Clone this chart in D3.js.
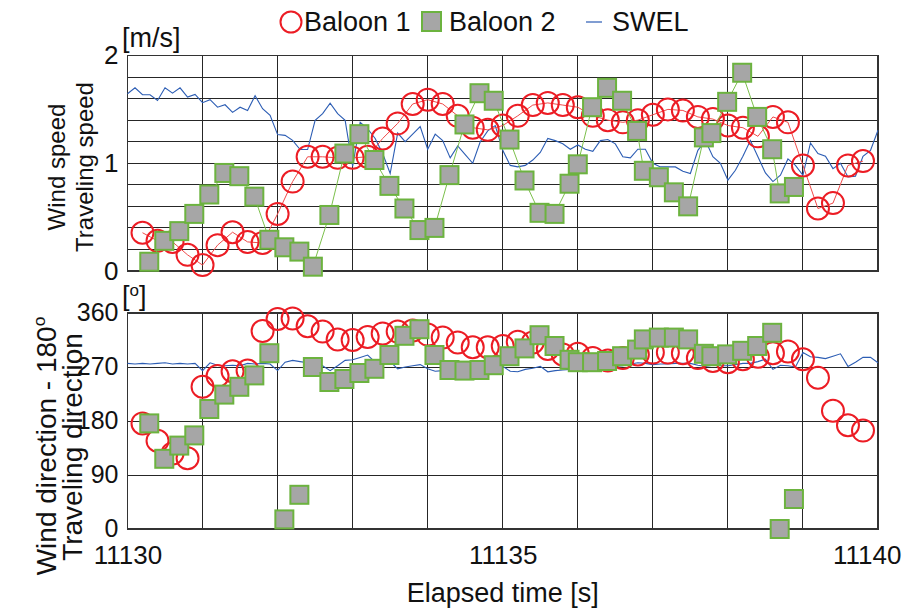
<!DOCTYPE html>
<html>
<head>
<meta charset="utf-8">
<title>Baloon and SWEL wind</title>
<script src="https://d3js.org/d3.v7.min.js"></script>
<style>
  body { margin: 0; background: #fff; }
  svg { display: block; font-family: "Liberation Sans", Arial, sans-serif; }
</style>
</head>
<body>
<div id="chart"></div>
<script>

// ******* Data *******
// Baloon 1 : one sample every 0.2 s starting at 11130.2 s
var b1Start = 11130.2, b1Step = 0.2;
var b1Speed = [0.355, 0.28, 0.27, 0.15, 0.055, 0.24, 0.36, 0.27, 0.26, 0.53,
               0.83, 1.06, 1.06, 1.05, 1.05, 1.06, 1.23, 1.37, 1.55, 1.59,
               1.55, 1.44, 1.33, 1.31, 1.35, 1.44, 1.54, 1.56, 1.54, 1.52,
               1.44, 1.40, 1.38, 1.40, 1.45, 1.50, 1.49, 1.43, 1.41, 1.35,
               1.33, 1.25, 1.43, 1.38, 0.98, 0.58, 0.63, 0.98, 1.02];
var b1Dir = [176, 147, 126, 118, 237, 255, 263, 264, 330, 350,
             351, 338, 329, 316, 315, 320, 326, 329, 331, 324,
             319, 311, 303, 303, 305, 312, 311, 300, 291, 292,
             285, 281, 285, 291, 294, 294, 293, 285, 280, 278,
             283, 287, 293, 296, 283, 252, 197, 173, 164];

// Baloon 2 : irregular sampling
var b2Time = [11130.29, 11130.49, 11130.69, 11130.89, 11131.09, 11131.29, 11131.49, 11131.69,
              11131.89, 11132.09, 11132.29, 11132.47, 11132.69, 11132.89, 11133.09, 11133.29,
              11133.49, 11133.69, 11133.89, 11134.09, 11134.29, 11134.49, 11134.69, 11134.88,
              11135.09, 11135.29, 11135.49, 11135.69, 11135.89, 11136.00, 11136.19, 11136.39,
              11136.59, 11136.79, 11136.88, 11137.08, 11137.28, 11137.47, 11137.68, 11137.78,
              11137.99, 11138.19, 11138.39, 11138.59, 11138.69, 11138.88];
var b2Speed = [0.086, 0.28, 0.37, 0.53, 0.71, 0.91, 0.88, 0.69,
               0.29, 0.22, 0.18, 0.04, 0.52, 1.09, 1.27, 1.03,
               0.79, 0.58, 0.38, 0.40, 0.89, 1.36, 1.65, 1.58,
               1.22, 0.84, 0.54, 0.53, 0.81, 0.99, 1.52, 1.70,
               1.58, 1.30, 0.93, 0.87, 0.73, 0.60, 1.24, 1.28,
               1.57, 1.84, 1.43, 1.13, 0.72, 0.78];
var b2Dir = [176, 117, 139, 156, 200, 224, 237, 256,
             293, 16, 57, 270, 245, 250, 260, 267,
             290, 322, 333, 290, 265, 264, 265, 273,
             288, 301, 323, 305, 282, 278, 278, 280,
             288, 299, 316, 319, 319, 316, 292, 288,
             291, 297, 305, 327, 0, 50];

// SWEL : one sample every 0.1 s starting at 11130 s
var swelStart = 11130, swelStep = 0.1;
var swelSpeed = [1.645, 1.70, 1.636, 1.636, 1.583, 1.70, 1.651, 1.70, 1.614, 1.639,
                 1.562, 1.59, 1.52, 1.543, 1.472, 1.52, 1.49, 1.627, 1.506, 1.444,
                 1.266, 1.259, 1.213, 1.127, 1.127, 1.398, 1.46, 1.558, 1.46, 1.398,
                 0.97, 1.38, 1.32, 1.23, 1.09, 0.905, 1.28, 1.20, 1.27, 1.34,
                 1.13, 1.27, 1.21, 1.05, 1.16, 1.08, 1.00, 1.20, 1.30, 1.35,
                 1.12, 0.98, 0.966, 0.98, 1.03, 1.10, 1.23, 1.21, 1.18, 1.13,
                 1.17, 1.13, 1.11, 1.21, 1.22, 1.18, 1.06, 1.05, 1.13, 1.13,
                 1.00, 0.966, 0.966, 0.966, 0.926, 0.905, 1.12, 1.21, 1.06, 1.00,
                 0.843, 0.935, 1.065, 1.21, 1.06, 0.91, 0.83, 0.889, 1.04, 0.98,
                 0.889, 1.188, 1.09, 1.065, 0.95, 1.0, 0.873, 0.88, 1.065, 1.12, 1.306];
var swelDir = [276, 275, 276, 275, 276, 277, 275, 276, 275, 276,
               264, 277, 273, 272, 273, 272, 276, 275, 276, 275,
               264, 278, 281, 279, 277, 275, 272, 264, 272, 281,
               282, 286, 290, 278, 280, 279, 267, 270, 272, 274,
               267, 263, 264, 265, 266, 264, 268, 270, 268, 270,
               271, 263, 262, 266, 268, 271, 262, 264, 265, 266,
               268, 267, 269, 268, 270, 271, 272, 275, 277, 276,
               274, 275, 275, 276, 276, 276, 273, 271, 273, 272,
               272, 274, 276, 276, 279, 283, 266, 273, 272, 270,
               294, 287, 286, 284, 288, 292, 271, 278, 286, 286, 277];

// ticks & labels
var xTicks = [11130, 11135, 11140];
var speedTicks = [0, 1, 2];
var dirTicks = [0, 90, 180, 270, 360];
var legendNames = ["Baloon 1", "Baloon 2", "SWEL"];

// ******* Constants *******
const width = 903, height = 612;
const plotLeft = 127.5, plotRight = 878;
const top1 = 55.5, bottom1 = 271;   // speed panel
const top2 = 313, bottom2 = 529;    // direction panel

const red = "#ec1c24", redLine = "#f04a4a";
const green = "#6cb33f", greenLine = "#7cc04c", grey = "#a6a6a6";
const blue = "#2c5db4";
const gridColor = "#262626";
const ink = "#111";

// assemble rows
var b1 = b1Speed.map(function(v, i) { return {t: b1Start + i * b1Step, speed: v, dir: b1Dir[i]}; });
var b2 = b2Time.map(function(t, i) { return {t: t, speed: b2Speed[i], dir: b2Dir[i]}; });
var swel = swelSpeed.map(function(v, i) { return {t: swelStart + i * swelStep, speed: v, dir: swelDir[i]}; });

// ******* Scales *******
var x = d3.scaleLinear().domain([11130, 11140]).range([plotLeft, plotRight]);
var ySpeed = d3.scaleLinear().domain([0, 2]).range([bottom1, top1]);
var yDir = d3.scaleLinear().domain([0, 360]).range([bottom2, top2]);

var svg = d3.select("#chart").append("svg")
    .attr("width", width)
    .attr("height", height);

// ******* Grids *******
function drawGrid(y, hTicks, top, bottom) {
  var g = svg.append("g").attr("shape-rendering", "crispEdges");
  g.selectAll(".hgrid").data(hTicks).enter().append("line")
    .attr("x1", plotLeft).attr("x2", plotRight)
    .attr("y1", function(d) { return y(d); })
    .attr("y2", function(d) { return y(d); })
    .attr("stroke", gridColor).attr("stroke-width", 1);
  g.selectAll(".vgrid").data(d3.range(11130, 11141)).enter().append("line")
    .attr("x1", function(d) { return x(d); })
    .attr("x2", function(d) { return x(d); })
    .attr("y1", top).attr("y2", bottom)
    .attr("stroke", gridColor).attr("stroke-width", 1);
  g.append("rect")
    .attr("x", plotLeft).attr("y", top)
    .attr("width", plotRight - plotLeft).attr("height", bottom - top)
    .attr("fill", "none").attr("stroke", "#333").attr("stroke-width", 1.5);
}
drawGrid(ySpeed, d3.range(0, 11).map(function(k) { return k * 0.2; }), top1, bottom1);
drawGrid(yDir, dirTicks, top2, bottom2);

// ******* Axes (labels only) *******
function styleAxis(g) {
  g.select(".domain").remove();
  g.selectAll("line").remove();
  g.selectAll("text").attr("font-size", 26).attr("fill", ink)
    .attr("font-family", "'Liberation Sans', Arial, sans-serif");
}
svg.append("g")
  .attr("transform", "translate(" + plotLeft + ",0)")
  .call(d3.axisLeft(ySpeed).tickValues(speedTicks).tickSize(0).tickPadding(9).tickFormat(d3.format("d")))
  .call(styleAxis);
svg.append("g")
  .attr("transform", "translate(" + plotLeft + ",0)")
  .call(d3.axisLeft(yDir).tickValues(dirTicks).tickSize(0).tickPadding(9).tickFormat(d3.format("d")))
  .call(styleAxis)
  .selectAll("text").attr("font-size", 25).attr("dy", "0.28em");
var xAxisG = svg.append("g")
  .attr("transform", "translate(0," + bottom2 + ")")
  .call(d3.axisBottom(x).tickValues(xTicks).tickSize(0).tickPadding(17).tickFormat(d3.format("d")))
  .call(styleAxis);
// the last label is kept inside the picture
xAxisG.selectAll(".tick text")
  .filter(function(d) { return d === 11140; })
  .attr("text-anchor", "end").attr("x", width - 2 - plotRight);

// ******* Series *******
function drawPanel(y, key, withLines) {
  var g = svg.append("g");
  g.append("path").datum(swel)
    .attr("fill", "none").attr("stroke", blue).attr("stroke-width", 1.1)
    .attr("d", d3.line().x(function(d) { return x(d.t); }).y(function(d) { return y(d[key]); }));

  if (withLines) {
    g.append("path").datum(b1)
      .attr("fill", "none").attr("stroke", redLine).attr("stroke-width", 1)
      .attr("d", d3.line().x(function(d) { return x(d.t); }).y(function(d) { return y(d[key]); }));
  }
  g.selectAll(".b1").data(b1).enter().append("circle")
    .attr("cx", function(d) { return x(d.t); })
    .attr("cy", function(d) { return y(d[key]); })
    .attr("r", 11)
    .attr("fill", "none").attr("stroke", red).attr("stroke-width", 2);

  if (withLines) {
    g.append("path").datum(b2)
      .attr("fill", "none").attr("stroke", greenLine).attr("stroke-width", 1)
      .attr("d", d3.line().x(function(d) { return x(d.t); }).y(function(d) { return y(d[key]); }));
  }
  g.selectAll(".b2").data(b2).enter().append("rect")
    .attr("x", function(d) { return x(d.t) - 9; })
    .attr("y", function(d) { return y(d[key]) - 9; })
    .attr("width", 18).attr("height", 18)
    .attr("fill", grey).attr("stroke", green).attr("stroke-width", 2);
}
drawPanel(ySpeed, "speed", true);
drawPanel(yDir, "dir", false);

// ******* Axis titles and units *******
function vTitle(txt, cx, cy, size, sup) {
  var t = svg.append("text")
    .attr("transform", "translate(" + cx + "," + cy + ") rotate(-90)")
    .attr("text-anchor", "middle").attr("dy", "0.35em")
    .attr("font-size", size).attr("fill", ink)
    .text(txt);
  if (sup) {
    t.append("tspan").attr("font-size", size * 0.62).attr("dy", "-0.6em").text(sup);
  }
}
vTitle("Wind speed", 57, 167, 24);
vTitle("Traveling speed", 85, 167, 24);
vTitle("Wind direction - 180", 46, 446, 28, "o");
vTitle("Traveling direction", 72, 447, 28);

svg.append("text").attr("x", 122).attr("y", 47)
  .attr("font-size", 27).attr("fill", ink).text("[m/s]");
var deg = svg.append("text").attr("x", 122).attr("y", 305)
  .attr("font-size", 27).attr("fill", ink).text("[");
deg.append("tspan").attr("font-size", 17).attr("dy", "-0.55em").text("o");
deg.append("tspan").attr("dy", "0.35em").text("]");

svg.append("text")
  .attr("x", (plotLeft + plotRight) / 2).attr("y", 602)
  .attr("text-anchor", "middle")
  .attr("font-size", 27).attr("fill", ink)
  .text("Elapsed time [s]");

// ******* Legend *******
var lg = svg.append("g").attr("font-size", 27).attr("fill", ink);
lg.append("circle").attr("cx", 291).attr("cy", 22).attr("r", 10.5)
  .attr("fill", "none").attr("stroke", red).attr("stroke-width", 2);
lg.append("text").attr("x", 304).attr("y", 22).attr("dy", "0.35em").text(legendNames[0]);
lg.append("rect").attr("x", 422).attr("y", 12).attr("width", 19).attr("height", 19)
  .attr("fill", grey).attr("stroke", green).attr("stroke-width", 2);
lg.append("text").attr("x", 449).attr("y", 22).attr("dy", "0.35em").text(legendNames[1]);
lg.append("line").attr("x1", 586).attr("x2", 602).attr("y1", 22).attr("y2", 22)
  .attr("stroke", blue).attr("stroke-width", 1.2);
lg.append("text").attr("x", 612).attr("y", 22).attr("dy", "0.35em").text(legendNames[2]);

</script>
</body>
</html>
